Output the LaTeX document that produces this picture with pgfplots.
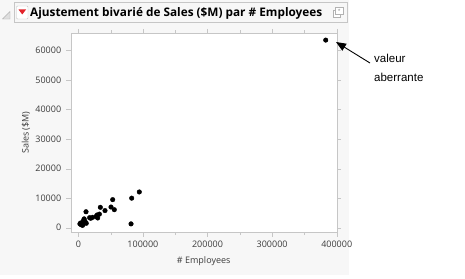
\documentclass[border=0pt]{standalone}
\usepackage{fontspec}
\setmainfont{Open Sans}
\newfontfamily\notefont{Liberation Sans}
\usepackage{pgfplots}
\pgfplotsset{compat=1.18}
\usetikzlibrary{arrows.meta}

\definecolor{panelbg}{HTML}{F7F7F7}
\definecolor{framegray}{HTML}{C6C6C6}
\definecolor{labelgray}{HTML}{3C3C3C}
\definecolor{jmpred}{HTML}{E2232A}

% Sales ($M) against number of employees
\pgfplotstableread{
emp     sales
383000  63500
94400   12100
82600   10000
81600   1300
53200   9500
55700   6100
50600   7000
41300   5800
34100   6900
32600   4600
29000   4300
27500   3800
30000   3300
19200   3200
17500   3400
22000   3500
11900   5400
9000    3000
8000    2400
10500   2100
12300   1500
9500    1800
7500    1200
5000    1500
3500    1600
4500    1000
6500    800
2500    1300
}\companies

\begin{document}
\begin{tikzpicture}[x=1bp,y=1bp]
% canvas and report panel
\fill[white] (0,0) rectangle (465,278);
\fill[panelbg] (0,3) rectangle (349,278);

% outline header
\draw[framegray, fill=panelbg] (14.5,256) rectangle (347,276);
\draw[gray!60, fill=gray!25] (10,266.5) -- (10,259) -- (2.5,259) -- cycle;
\draw[framegray, fill=white, rounded corners=1bp] (16.5,259) rectangle (28,272);
\fill[jmpred] (18.5,268.5) -- (26,268.5) -- (22.25,263.5) -- cycle;
\node[anchor=base west, inner sep=0pt, font=\fontsize{11.8bp}{13bp}\selectfont\bfseries, text=black]
  at (30,261.5) {Ajustement bivarié de Sales (\$M) par \# Employees};
% panel option icon
\draw[gray!60, fill=white] (333,261) rectangle (340,268);
\draw[gray!60, fill=white] (335.5,263.5) rectangle (343,271);
\node[inner sep=0pt, font=\fontsize{5bp}{5bp}\selectfont, text=gray] at (339.25,267.25) {$\star$};

\begin{axis}[
  at={(70.7bp,46bp)}, anchor=south west,
  scale only axis, width=266bp, height=198.7bp,
  xmin=-11800, xmax=400000,
  ymin=-1450, ymax=65800,
  axis background/.style={fill=white},
  axis line style={framegray},
  xtick={0,100000,...,400000},
  ytick={0,10000,...,60000},
  minor xtick={50000,150000,250000,350000},
  tick align=outside,
  major tick length=4.5bp,
  minor tick length=3bp,
  tick style={framegray},
  scaled ticks=false,
  /pgf/number format/.cd, fixed, 1000 sep={}, assume math mode=true,
  /pgfplots/.cd,
  tick label style={font=\fontsize{9bp}{11bp}\selectfont, text=labelgray},
  xticklabel style={yshift=-1bp},
  yticklabel style={xshift=-1.5bp},
  xlabel={\# Employees},
  ylabel={Sales (\$M)},
  label style={font=\fontsize{9bp}{11bp}\selectfont, text=labelgray},
  x label style={at={(axis description cs:0.5,0)}, anchor=base, inner sep=0pt, yshift=-31bp},
  y label style={at={(axis description cs:-0.168,0.5)}, anchor=center, inner sep=0pt},
  clip=false,
]
\addplot[only marks, mark=*, mark size=2.3bp, black] table[x=emp, y=sales] {\companies};
\end{axis}

% outlier annotation
\draw[black, line width=0.9bp, -{Triangle[length=10bp, width=8bp]}] (370,215) -- (336,236);
\node[anchor=base west, inner sep=0pt, font=\notefont\fontsize{11.5bp}{13bp}\selectfont] at (374,216) {valeur};
\node[anchor=base west, inner sep=0pt, font=\notefont\fontsize{11.5bp}{13bp}\selectfont] at (374,197) {aberrante};
\end{tikzpicture}
\end{document}
